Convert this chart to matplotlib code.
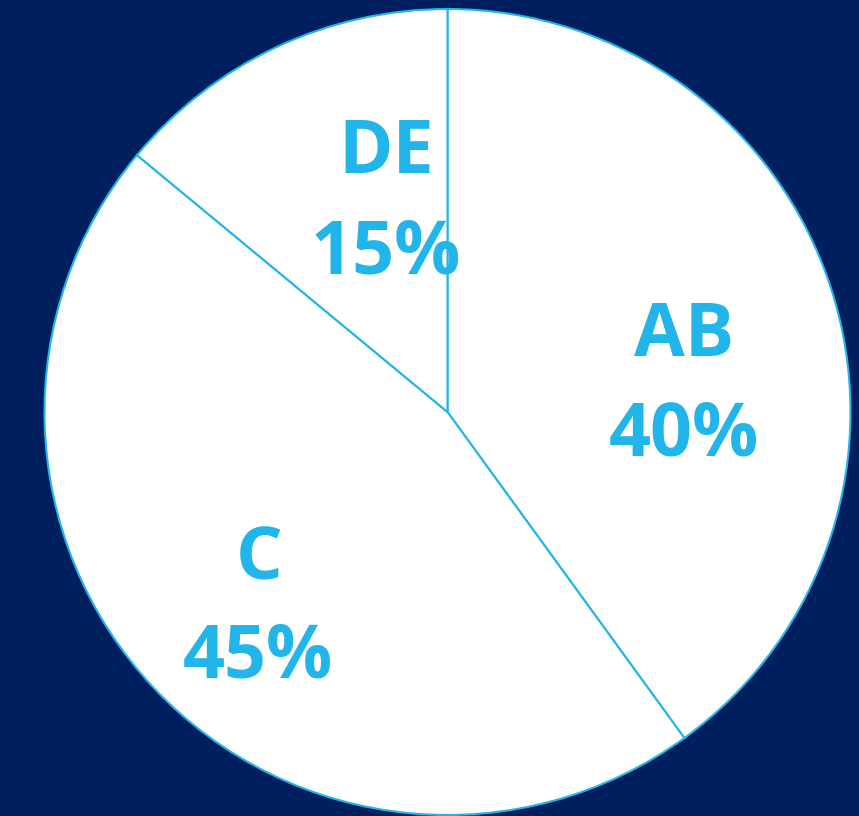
import matplotlib
matplotlib.use("Agg")
import matplotlib.pyplot as plt

# ---------- data ----------
names = ["AB", "C", "DE"]
labels = ["40%", "45%", "15%"]
# wedge sizes (boundaries), labels show the rounded text
sizes = [40, 46, 14]

BG = "#001f5e"
BLUE = "#22b5ea"

W, H = 859, 816
fig = plt.figure(figsize=(W / 100, H / 100), dpi=100, facecolor=BG)
ax = fig.add_axes([0, 0, 1, 1])
ax.set_facecolor(BG)
ax.axis("off")

cx, cy, r = 447.5, H - 412, 403
ax.pie(sizes, center=(cx, cy), radius=r, startangle=90, counterclock=False,
       colors=["white"] * len(sizes),
       wedgeprops=dict(edgecolor=BLUE, linewidth=1.5))
ax.set_xlim(0, W)
ax.set_ylim(0, H)
ax.set_aspect("equal")

# label baselines in pixel coords (x center, y from top)
name_pos = [(684, 356), (259, 580), (386, 173)]
pct_pos = [(684, 456), (258, 678), (386, 273)]

font = dict(family=["Open Sans", "DejaVu Sans"], fontweight="bold",
            fontsize=53, color=BLUE, ha="center", va="baseline")
for n, p, (nx, ny), (px, py) in zip(names, labels, name_pos, pct_pos):
    ax.text(nx, H - ny, n, **font)
    ax.text(px, H - py, p, **font)

fig.savefig("out.png", dpi=100, facecolor=BG)
